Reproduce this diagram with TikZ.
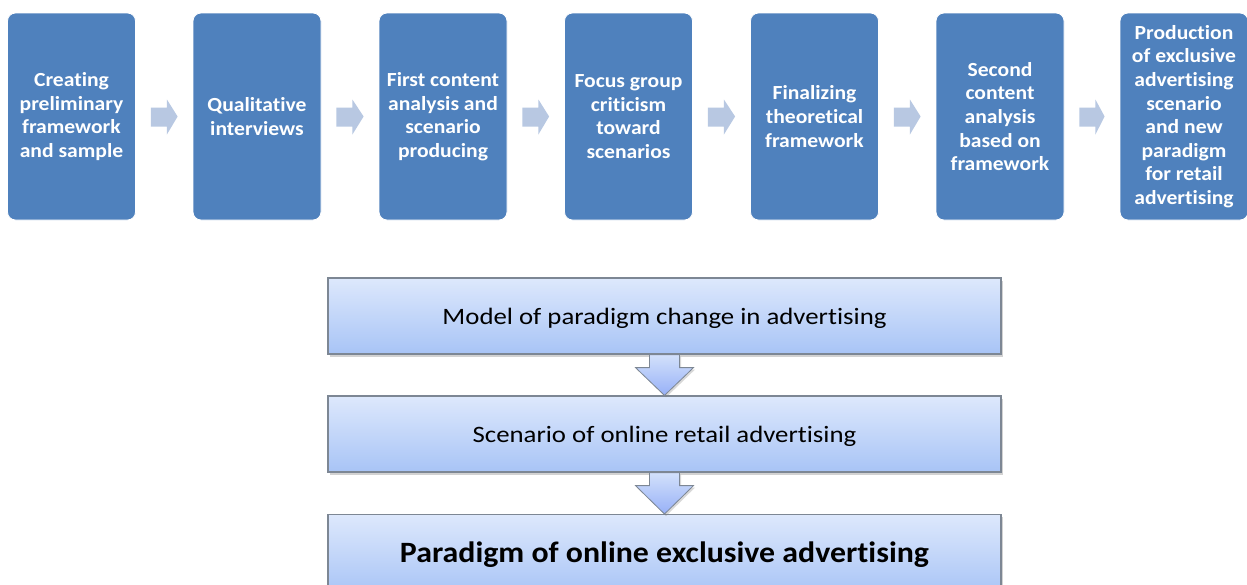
\documentclass[tikz,border=0pt]{standalone}
\usepackage{fontspec}
\setmainfont[Ligatures=NoCommon]{Carlito}
\newfontfamily\stepfont[FakeStretch=1.08, Ligatures=NoCommon]{Carlito}
\newfontfamily\modelfont[FakeStretch=1.14, Ligatures=NoCommon]{Carlito}
\newfontfamily\finalfont[FakeStretch=1.08, Ligatures=NoCommon]{Carlito}
\usetikzlibrary{calc,shadows}
\definecolor{stepblue}{HTML}{4F81BD}
\definecolor{smallarrow}{HTML}{B8C8E2}
\definecolor{gradtop}{HTML}{DDE8FC}
\definecolor{gradbot}{HTML}{A8C4F6}
\definecolor{boxline}{HTML}{7D8794}
\tikzset{
  stepbox/.style={draw=white, line width=0.8pt, fill=stepblue, rounded corners=8pt,
    minimum width=128pt, minimum height=207pt, inner sep=0pt, align=center,
    text=white, font=\stepfont\fontsize{20}{23.6}\selectfont\bfseries},
  modelbox/.style={draw=boxline, line width=1.2pt, top color=gradtop, bottom color=gradbot,
    minimum width=673pt, minimum height=76pt, inner sep=0pt, align=center,
    font=\modelfont\fontsize{23.5}{28}\selectfont,
    drop shadow={opacity=0.35, shadow xshift=2pt, shadow yshift=-2.5pt}},
  smallarr/.style={fill=smallarrow, draw=none},
  downarr/.style={draw=boxline, line width=0.8pt, top color=gradtop!80!gradbot, bottom color=gradbot!90!blue,
    drop shadow={opacity=0.3, shadow xshift=1.5pt, shadow yshift=-2pt}}
}
\begin{document}
\begin{tikzpicture}[x=1pt,y=1pt]
\clip (0,0) rectangle (1247,-584);
\fill[white] (0,0) rectangle (1247,-584);
% top process steps
\node[stepbox] (s1) at (71.5,-116.5) {Creating\\preliminary\\framework\\and sample};
\node[stepbox] (s2) at (257,-116.5) {Qualitative\\interviews};
\node[stepbox] (s3) at (443,-116.5) {First content\\analysis and\\scenario\\producing};
\node[stepbox] (s4) at (628.5,-116.5) {Focus group\\criticism\\toward\\scenarios};
\node[stepbox] (s5) at (814.5,-116.5) {Finalizing\\theoretical\\framework};
\node[stepbox] (s6) at (1000,-116.5) {Second\\content\\analysis\\based on\\framework};
\node[stepbox] (s7) at (1184,-116.5) {Production\\of exclusive\\advertising\\scenario\\and new\\paradigm\\for retail\\advertising};
% small arrows between steps
\foreach \a/\b in {s1/s2,s2/s3,s3/s4,s4/s5,s5/s6,s6/s7}{
  \fill[smallarr]
    ($(\a.east)+(15,9)$) -- ($(\a.east)+(31,9)$) -- ($(\a.east)+(31,17)$)
    -- ($(\b.west)+(-15,0)$)
    -- ($(\a.east)+(31,-18)$) -- ($(\a.east)+(31,-10)$) -- ($(\a.east)+(15,-10)$) -- cycle;
}
% bottom model
\node[modelbox] (m1) at (664.5,-316) {\raisebox{-2.5pt}[\height][\depth]{Model of paradigm change in advertising}};
\node[modelbox] (m2) at (664.5,-434) {\raisebox{-2pt}[\height][\depth]{Scenario of online retail advertising}};
\node[modelbox, font=\finalfont\fontsize{29.5}{34}\selectfont\bfseries, minimum height=80pt, anchor=north] (m3) at (664.5,-514) {\raisebox{-3pt}{Paradigm of online exclusive advertising}};
\foreach \a/\b in {m1/m2,m2/m3}{
  \path[downarr]
    ($(\a.south)+(-15,0)$) -- ($(\a.south)+(-15,-13)$) -- ($(\a.south)+(-29,-13)$)
    -- (\b.north)
    -- ($(\a.south)+(29,-13)$) -- ($(\a.south)+(15,-13)$) -- ($(\a.south)+(15,0)$) -- cycle;
}
\end{tikzpicture}
\end{document}
